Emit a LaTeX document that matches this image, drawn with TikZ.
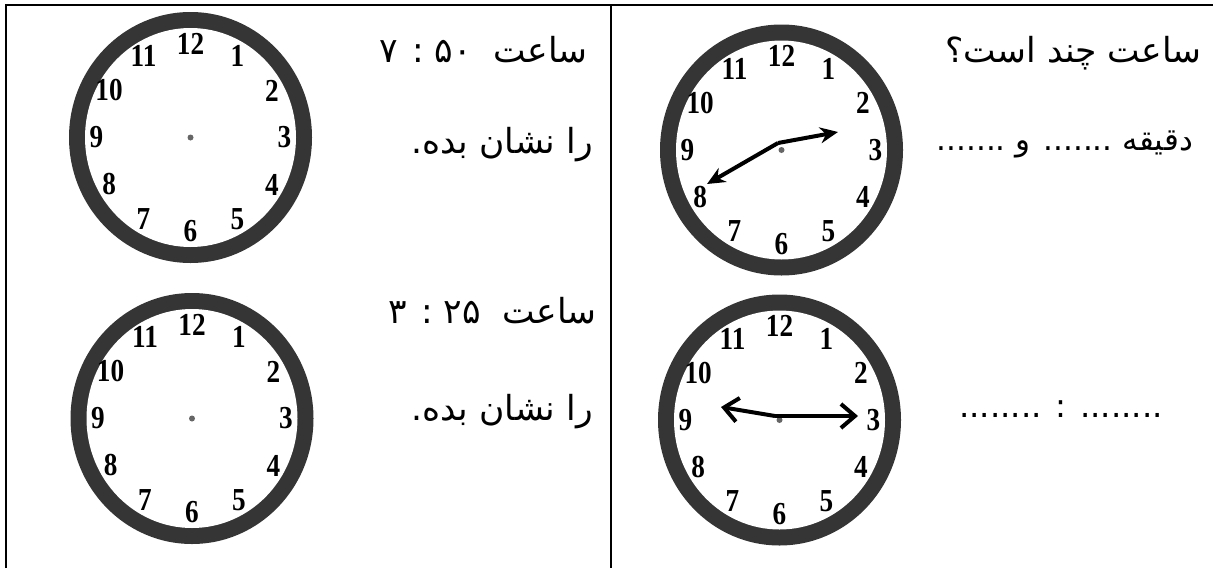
\documentclass[tikz,border=0pt]{standalone}
\usepackage{fontspec}
\usepackage{tikz}
\usetikzlibrary{arrows.meta}
\TeXXeTstate=1
\newfontfamily\fafont[Script=Arabic]{DejaVu Sans}
\newfontfamily\numfont{Liberation Serif}
\definecolor{ringc}{HTML}{353535}
\definecolor{hubc}{HTML}{666666}
\tikzset{
  rule/.style={line width=2.5pt,black},
  numlbl/.style={font=\numfont\bfseries\fontsize{32}{32}\selectfont,inner sep=0pt},
  fatxt/.style={font=\fafont\fontsize{34.5}{40}\selectfont,inner sep=0pt},
  hand/.style={line width=4pt,black},
  clock/.pic={
    \fill[ringc] (0,0) ellipse [x radius=121.5pt,y radius=125.5pt];
    \fill[white] (0,0) ellipse [x radius=105.5pt,y radius=109.5pt];
    \fill[hubc] (0,0) circle (3pt);
    \foreach \h in {1,...,12}
      \node[numlbl] (-n\h) at ({-90+30*\h}:94) {\scalebox{0.85}[1]{\h}};
  }
}
\begin{document}
\begin{tikzpicture}[x=1pt,y=-1pt]
\useasboundingbox (0,0) rectangle (1213,568);
% table rules
\draw[rule] (6,568) -- (6,5) -- (1213,5);
\draw[rule] (611,5) -- (611,568);
% clocks
\pic (ckA) at (190.5,137.5) {clock};
\pic (ckB) at (192,418.5) {clock};
\pic (ckC) at (781.5,150) {clock};
\pic (ckD) at (779.5,420) {clock};
% hands
\coordinate (hubC) at (778,143);
\coordinate (tipC8) at (707,184);
\coordinate (tipC2) at (838,132);
\draw[hand,-{Stealth[length=18pt,width=16pt]}] (hubC) -- (tipC8);
\draw[hand,-{Stealth[length=18pt,width=16pt]}] (hubC) -- (tipC2);
\coordinate (hubD) at (775,416);
\coordinate (tipD9) at (721,407);
\coordinate (tipD3) at (858,416);
\draw[hand,-{Straight Barb[length=14pt,width=24pt]}] (hubD) -- (tipD9);
\draw[hand,-{Straight Barb[length=14pt,width=24pt]}] (hubD) -- (tipD3);
% texts
\node[fatxt,anchor=base east] (askC) at (1202,62) {\beginR ساعت چند است؟\endR};
\node[fatxt,font=\fafont\fontsize{31}{40}\selectfont,anchor=base east] (ansC) at (1193,150) {\beginR دقیقه ....... و .......\endR};
\node[fatxt,font=\fafont\fontsize{32.5}{40}\selectfont,anchor=base] (ansD) at (1061,417) {........ : ........};
\node[fatxt,anchor=base east] (setA) at (588,62) {\beginR ساعت\ \ ۵۰ : ۷\endR};
\node[fatxt,anchor=base east] (showA) at (593,153) {\beginR را نشان بده.\endR};
\node[fatxt,anchor=base east] (setB) at (597,323) {\beginR ساعت\ \ ۲۵ : ۳\endR};
\node[fatxt,anchor=base east] (showB) at (593,420) {\beginR را نشان بده.\endR};
\end{tikzpicture}
\end{document}
